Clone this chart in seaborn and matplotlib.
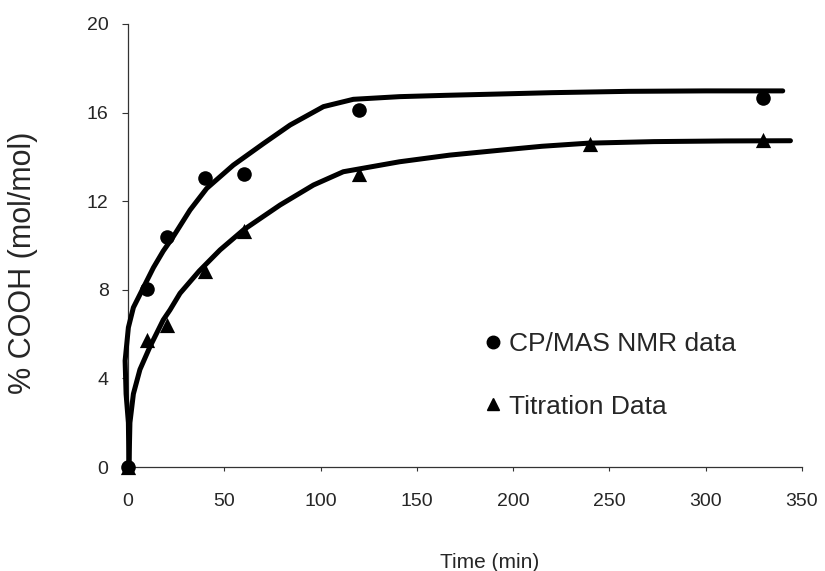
import matplotlib
matplotlib.use("Agg")
import matplotlib.pyplot as plt
import seaborn as sns
import pandas as pd
from matplotlib.lines import Line2D

# ---- data ----
nmr_time = [0, 10, 20, 40, 60, 120, 330]
nmr_cooh = [0, 8.05, 10.38, 13.05, 13.25, 16.1, 16.64]

tit_time = [0, 10, 20, 40, 60, 120, 240, 330]
tit_cooh = [0, 5.73, 6.4, 8.85, 10.65, 13.23, 14.58, 14.76]

fit_nmr_time = [0.5, 0.2, -1.0, -1.5, 0.2, 2.8, 8, 13.2, 18.3, 23.5, 32.2, 40.9, 54.7,
                70.3, 84.2, 101.5, 117, 141, 165, 193, 220, 260, 300, 340]
fit_nmr_cooh = [0, 2.0, 3.3, 4.8, 6.3, 7.2, 8.1, 9.0, 9.75, 10.4, 11.6, 12.58, 13.63,
                14.6, 15.44, 16.27, 16.6, 16.72, 16.78, 16.84, 16.9, 16.96, 16.98, 16.98]

fit_tit_time = [0.5, 1.0, 2.8, 6.2, 11.4, 18.3, 21.8, 27, 37, 47.8, 59.9, 79, 96.3,
                111.8, 141, 167, 193, 215, 239, 273, 310, 344]
fit_tit_cooh = [0, 2.0, 3.3, 4.4, 5.43, 6.64, 7.09, 7.84, 8.85, 9.8, 10.7, 11.83, 12.73,
                13.33, 13.78, 14.08, 14.3, 14.48, 14.62, 14.69, 14.72, 14.73]

x_ticks = [0, 50, 100, 150, 200, 250, 300, 350]
y_ticks = [0, 4, 8, 12, 16, 20]

nmr_label = "CP/MAS NMR data"
tit_label = "Titration Data"
x_label = "Time (min)"
y_label = "% COOH (mol/mol)"

# ---- style ----
sns.set_style("ticks")
plt.rcParams["font.family"] = ["Liberation Sans", "DejaVu Sans"]

W, H = 825, 571
fig = plt.figure(figsize=(W / 100, H / 100), dpi=100)
ax = fig.add_axes([128 / W, 1 - 467 / H, (802 - 128) / W, (467 - 24) / H])

fit1 = pd.DataFrame({"t": fit_nmr_time, "y": fit_nmr_cooh})
fit2 = pd.DataFrame({"t": fit_tit_time, "y": fit_tit_cooh})
sns.lineplot(data=fit1, x="t", y="y", sort=False, estimator=None, color="black",
             linewidth=3.6, ax=ax, clip_on=False, zorder=3)
sns.lineplot(data=fit2, x="t", y="y", sort=False, estimator=None, color="black",
             linewidth=3.6, ax=ax, clip_on=False, zorder=3)

d1 = pd.DataFrame({"t": nmr_time, "y": nmr_cooh})
d2 = pd.DataFrame({"t": tit_time, "y": tit_cooh})
sns.scatterplot(data=d1, x="t", y="y", marker="o", s=110, color="black",
                edgecolor="black", linewidth=0, ax=ax, clip_on=False, zorder=4)
sns.scatterplot(data=d2, x="t", y="y", marker="^", s=120, color="black",
                edgecolor="black", linewidth=0, ax=ax, clip_on=False, zorder=4)

ax.set_xlim(0, 350)
ax.set_ylim(0, 20)
ax.set_xticks(x_ticks)
ax.set_yticks(y_ticks)
ax.set_xticklabels([str(v) for v in x_ticks])
ax.set_yticklabels([str(v) for v in y_ticks])
sns.despine(ax=ax)
for s in ["left", "bottom"]:
    ax.spines[s].set_linewidth(0.9)
    ax.spines[s].set_color("#333333")
ax.tick_params(axis="x", direction="out", length=3, width=0.8, pad=16,
               labelsize=14, color="#333333")
ax.tick_params(axis="y", direction="out", length=4, width=0.8, pad=10,
               labelsize=14, color="#333333")

ax.set_xlabel(x_label, fontsize=15)
ax.set_ylabel(y_label, fontsize=22)
ax.xaxis.set_label_coords((490 - 128) / 674, (467 - 562) / 443)
ax.xaxis.label.set_va("center")
ax.yaxis.set_label_coords((23 - 128) / 674, (467 - 263) / 443)
ax.yaxis.label.set_va("center")

handles = [
    Line2D([], [], marker="o", color="black", linestyle="none", markersize=9),
    Line2D([], [], marker="^", color="black", linestyle="none", markersize=9),
]
ax.legend(handles, [nmr_label, tit_label], loc="center left",
          bbox_to_anchor=(485 / W, 1 - 375.5 / H), bbox_transform=fig.transFigure,
          frameon=False, fontsize=19, handlelength=0.6, handletextpad=0.3,
          labelspacing=1.45, borderpad=0, borderaxespad=0)

fig.savefig("out.png", dpi=100)
